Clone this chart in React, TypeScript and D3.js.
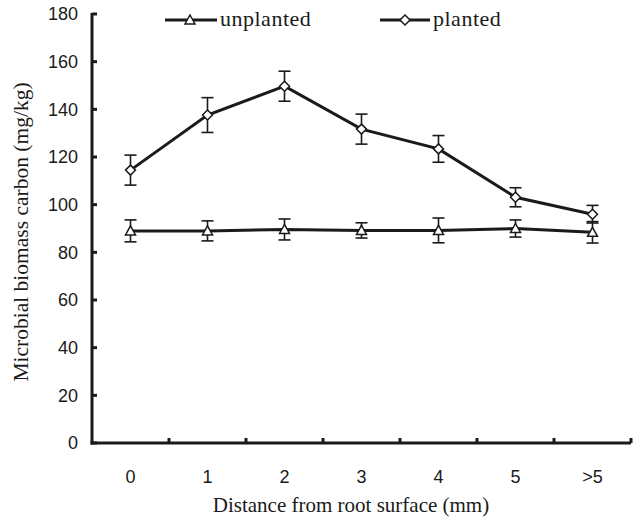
import React from "react";
import * as d3 from "d3";

const categories = ["0", "1", "2", "3", "4", "5", ">5"];
const plantedValues = [114.5, 137.6, 149.7, 131.7, 123.4, 103.1, 96.0];
const plantedErrors = [6.3, 7.3, 6.3, 6.3, 5.6, 4.0, 3.7];
const unplantedValues = [89.0, 89.0, 89.6, 89.2, 89.2, 90.0, 88.4];
const unplantedErrors = [4.6, 4.2, 4.4, 3.2, 5.2, 3.6, 4.5];
const yTicks = [0, 20, 40, 60, 80, 100, 120, 140, 160, 180];

const W = 633;
const H = 517;
const left = 92;
const right = 631;
const top = 14;
const bottom = 443;

const SERIF = "'Liberation Serif', 'Times New Roman', Times, serif";
const SANS = "'Liberation Sans', Arial, Helvetica, sans-serif";

export default function App() {
  const x = d3.scaleBand<string>().domain(categories).range([left, right]).padding(0);
  const y = d3.scaleLinear().domain([0, 180]).range([bottom, top]);
  const cx = (c: string) => (x(c) as number) + x.bandwidth() / 2;

  const line = d3
    .line<number>()
    .x((_, i) => cx(categories[i]))
    .y((d) => y(d));

  const tri = (px: number, py: number, s = 5) =>
    `M${px},${py - s}L${px + s},${py + s * 0.8}L${px - s},${py + s * 0.8}Z`;
  const dia = (px: number, py: number, s = 5) =>
    `M${px},${py - s}L${px + s},${py}L${px},${py + s}L${px - s},${py}Z`;

  const errBars = (vals: number[], errs: number[], key: string) =>
    vals.map((v, i) => {
      const px = cx(categories[i]);
      const y1 = y(v + errs[i]);
      const y2 = y(v - errs[i]);
      return (
        <g key={key + i} stroke="#1a1a1a" strokeWidth={1.6}>
          <line x1={px} x2={px} y1={y1} y2={y2} />
          <line x1={px - 6} x2={px + 6} y1={y1} y2={y1} />
          <line x1={px - 6} x2={px + 6} y1={y2} y2={y2} />
        </g>
      );
    });

  const xTickPositions = categories.map((c) => (x(c) as number) + x.bandwidth());

  return (
    <svg width={W} height={H} style={{ position: "absolute", left: 0, top: 0, background: "#fff" }}>
      <rect width={W} height={H} fill="#fff" />
      {/* axes */}
      <line x1={left} x2={left} y1={top - 1} y2={bottom + 1.5} stroke="#1a1a1a" strokeWidth={3} />
      <line x1={left - 1.5} x2={right} y1={bottom} y2={bottom} stroke="#1a1a1a" strokeWidth={3} />
      {yTicks.map((t) => (
        <g key={"yt" + t}>
          <line x1={left} x2={left + 5} y1={y(t)} y2={y(t)} stroke="#1a1a1a" strokeWidth={3} />
          <text
            x={left - 14}
            y={y(t)}
            dy="0.36em"
            textAnchor="end"
            fontFamily={SANS}
            fontSize={18}
            fill="#1a1a1a"
          >
            {t}
          </text>
        </g>
      ))}
      {xTickPositions.map((px, i) => (
        <line key={"xt" + i} x1={px} x2={px} y1={bottom} y2={bottom - 5} stroke="#1a1a1a" strokeWidth={3} />
      ))}
      {categories.map((c) => (
        <text
          key={"xl" + c}
          x={cx(c)}
          y={483}
          textAnchor="middle"
          fontFamily={SANS}
          fontSize={18}
          fill="#1a1a1a"
        >
          {c}
        </text>
      ))}
      <text x={351} y={512} textAnchor="middle" fontFamily={SERIF} fontSize={21} fill="#1a1a1a">
        Distance from root surface (mm)
      </text>
      <text
        transform={`translate(28,232) rotate(-90)`}
        textAnchor="middle"
        fontFamily={SERIF}
        fontSize={21.5}
        fill="#1a1a1a"
      >
        Microbial biomass carbon (mg/kg)
      </text>

      {/* error bars */}
      {errBars(plantedValues, plantedErrors, "pe")}
      {errBars(unplantedValues, unplantedErrors, "ue")}

      {/* lines */}
      <path d={line(unplantedValues) || ""} fill="none" stroke="#1a1a1a" strokeWidth={3} />
      <path d={line(plantedValues) || ""} fill="none" stroke="#1a1a1a" strokeWidth={3} />

      {/* markers */}
      {unplantedValues.map((v, i) => (
        <path key={"um" + i} d={tri(cx(categories[i]), y(v))} fill="#fff" stroke="#1a1a1a" strokeWidth={1.5} />
      ))}
      {plantedValues.map((v, i) => (
        <path key={"pm" + i} d={dia(cx(categories[i]), y(v))} fill="#fff" stroke="#1a1a1a" strokeWidth={1.5} />
      ))}

      {/* legend */}
      <line x1={165} x2={217} y1={20} y2={20} stroke="#1a1a1a" strokeWidth={3} />
      <path d={tri(190, 20)} fill="#fff" stroke="#1a1a1a" strokeWidth={1.5} />
      <text x={220} y={26} fontFamily={SERIF} fontSize={22} letterSpacing={0.5} fill="#1a1a1a">
        unplanted
      </text>
      <line x1={380} x2={430} y1={20} y2={20} stroke="#1a1a1a" strokeWidth={3} />
      <path d={dia(405, 20)} fill="#fff" stroke="#1a1a1a" strokeWidth={1.5} />
      <text x={433} y={26} fontFamily={SERIF} fontSize={22} letterSpacing={0.5} fill="#1a1a1a">
        planted
      </text>
    </svg>
  );
}
